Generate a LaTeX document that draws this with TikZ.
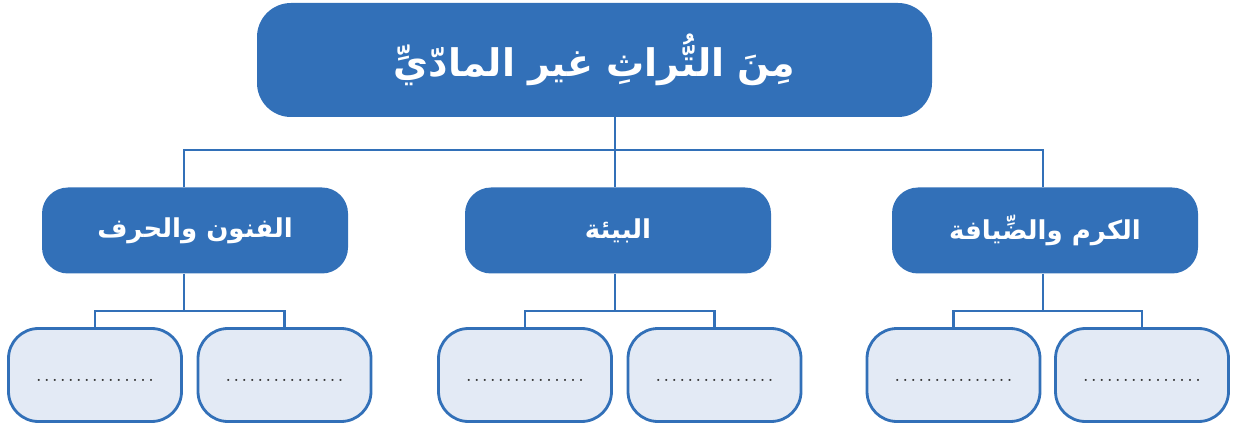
\documentclass[tikz,border=0pt]{standalone}
\usepackage{fontspec}
\usepackage{tikz}
\newfontfamily\arabicfont[Script=Arabic]{DejaVu Sans}
\newfontfamily\dotsfont[LetterSpace=5.8]{Latin Modern Roman}
\TeXXeTstate=1
\definecolor{hdblue}{RGB}{50,112,184}
\definecolor{paleblue}{RGB}{227,234,245}

\begin{document}
\begin{tikzpicture}[x=1pt,y=-1pt,
    headbox/.style={fill=hdblue, rounded corners=34pt, minimum width=675pt, minimum height=114pt, text=white, font=\arabicfont\bfseries\fontsize{38}{44}\selectfont},
    topicbox/.style={fill=hdblue, rounded corners=26pt, minimum width=306pt, minimum height=86pt, text=white, font=\arabicfont\bfseries\fontsize{26}{30}\selectfont},
    blankbox/.style={draw=hdblue, line width=2.8pt, fill=paleblue, rounded corners=30pt, minimum width=173pt, minimum height=93pt, text height=12pt, text depth=0pt, text=black!80, font=\dotsfont\fontsize{26}{28}\selectfont},
    link/.style={draw=hdblue, line width=2.6pt}]
    \useasboundingbox (0,0) rectangle (1234,430);

    % main box
    \node[headbox] (heritage) at (594.5,60) {\beginR مِنَ التُّراثِ غير المادّيِّ\endR};

    % topic boxes
    \node[topicbox] (funun) at (195,230.5) {\beginR الفنون والحرف\endR};
    \node[topicbox] (bia) at (618,230.5) {\beginR البيئة\endR};
    \node[topicbox] (karam) at (1045,230.5) {\beginR الكرم والضِّيافة\endR};

    % empty boxes
    \node[blankbox] (funun-a) at (95,375) {...............};
    \node[blankbox] (funun-b) at (284.5,375) {...............};
    \node[blankbox] (bia-a) at (525,375) {...............};
    \node[blankbox] (bia-b) at (714.5,375) {...............};
    \node[blankbox] (karam-a) at (953.5,375) {...............};
    \node[blankbox] (karam-b) at (1142,375) {...............};

    % top connectors
    \coordinate (hub) at (615,150);
    \coordinate (busL) at (184,150);
    \coordinate (busR) at (1043,150);
    \draw[link] (hub |- heritage.south) -- (hub) -- (hub |- bia.north);
    \draw[link] (busL |- funun.north) -- (busL) -- (busR) -- (busR |- karam.north);

    % lower connectors
    \foreach \g/\sx in {funun/184, bia/615, karam/1043} {
        \coordinate (\g-fork) at (\sx,311);
        \draw[link] (\g-fork |- \g.south) -- (\g-fork);
        \draw[link] (\g-a.north) |- (\g-fork) -| (\g-b.north);
    }
\end{tikzpicture}
\end{document}
